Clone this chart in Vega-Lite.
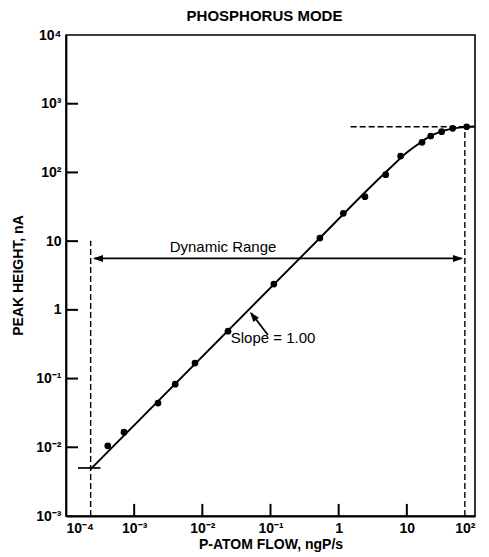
{
  "$schema": "https://vega.github.io/schema/vega-lite/v6.json",
  "autosize": "none",
  "width": 409,
  "height": 481,
  "padding": {"left": 66, "top": 35, "right": 14, "bottom": 41},
  "background": "white",
  "config": {
    "view": {"stroke": "black", "strokeWidth": 1.6},
    "font": "Liberation Sans",
    "axis": {
      "grid": false,
      "ticks": false,
      "domainColor": "black",
      "domainWidth": 1.8,
      "labelColor": "black",
      "labelFont": "Liberation Sans",
      "labelFontSize": 14,
      "labelFontWeight": "bold",
      "titleColor": "black",
      "titleFont": "Liberation Sans",
      "titleFontSize": 14,
      "titleFontWeight": "bold"
    }
  },
  "title": {
    "text": "PHOSPHORUS MODE",
    "font": "Liberation Sans",
    "fontSize": 15,
    "fontWeight": "bold",
    "color": "black",
    "anchor": "middle",
    "offset": 4,
    "dx": -6
  },
  "datasets": {
    "curve": [
      {"flow": 0.00023, "peak": 0.0048},
      {"flow": 0.53, "peak": 11.1},
      {"flow": 3, "peak": 63},
      {"flow": 6, "peak": 122},
      {"flow": 10, "peak": 195},
      {"flow": 15, "peak": 262},
      {"flow": 20, "peak": 318},
      {"flow": 30, "peak": 385},
      {"flow": 45, "peak": 430},
      {"flow": 70, "peak": 457},
      {"flow": 100, "peak": 465}
    ],
    "dots": [
      {"flow": 0.00041, "peak": 0.0105},
      {"flow": 0.00071, "peak": 0.0166},
      {"flow": 0.00224, "peak": 0.044},
      {"flow": 0.004, "peak": 0.083},
      {"flow": 0.0078, "peak": 0.168},
      {"flow": 0.0238, "peak": 0.49},
      {"flow": 0.112, "peak": 2.37},
      {"flow": 0.53, "peak": 11.1},
      {"flow": 1.17, "peak": 25.4},
      {"flow": 2.43, "peak": 44.3},
      {"flow": 4.9, "peak": 92.7},
      {"flow": 8.1, "peak": 173},
      {"flow": 16.7, "peak": 274},
      {"flow": 22.4, "peak": 339},
      {"flow": 32.4, "peak": 392},
      {"flow": 47, "peak": 438},
      {"flow": 75.5, "peak": 462}
    ],
    "dashed": [
      {"x": 0.00023, "x2": 0.00023, "y": 0.001, "y2": 10.1},
      {"x": 71, "x2": 71, "y": 0.001, "y2": 443},
      {"x": 1.5, "x2": 100, "y": 462, "y2": 462}
    ],
    "solid": [
      {"x": 0.00015, "x2": 0.00032, "y": 0.005, "y2": 0.005},
      {"x": 0.00026, "x2": 64, "y": 5.6, "y2": 5.6},
      {"x": 0.052, "x2": 0.0918, "y": 0.9, "y2": 0.43}
    ],
    "ticks": [
      {"x": 0.001, "x2": 0.001, "y": 0.001, "y2": 0.0015},
      {"x": 0.01, "x2": 0.01, "y": 0.001, "y2": 0.0015},
      {"x": 0.1, "x2": 0.1, "y": 0.001, "y2": 0.0015},
      {"x": 1, "x2": 1, "y": 0.001, "y2": 0.0015},
      {"x": 10, "x2": 10, "y": 0.001, "y2": 0.0015},
      {"x": 0.0001, "x2": 0.00015, "y": 0.01, "y2": 0.01},
      {"x": 0.0001, "x2": 0.00015, "y": 0.1, "y2": 0.1},
      {"x": 0.0001, "x2": 0.00015, "y": 1, "y2": 1},
      {"x": 0.0001, "x2": 0.00015, "y": 10, "y2": 10},
      {"x": 0.0001, "x2": 0.00015, "y": 100, "y2": 100},
      {"x": 0.0001, "x2": 0.00015, "y": 1000, "y2": 1000}
    ],
    "heads": [
      {"x": 0.000249, "y": 5.6, "angle": 180},
      {"x": 66.7, "y": 5.6, "angle": 0},
      {"x": 0.05, "y": 0.93, "angle": 232}
    ],
    "labels": [
      {"x": 0.0201, "y": 6.93, "text": "Dynamic Range", "align": "center"},
      {"x": 0.109, "y": 0.329, "text": "Slope = 1.00", "align": "left"}
    ]
  },
  "encoding": {
    "x": {
      "type": "quantitative",
      "scale": {"type": "log", "domain": [0.0001, 100], "nice": false}
    },
    "y": {
      "type": "quantitative",
      "scale": {"type": "log", "domain": [0.001, 10000], "nice": false}
    }
  },
  "layer": [
    {
      "data": {"name": "dashed"},
      "mark": {"type": "rule", "color": "black", "strokeWidth": 1.4, "strokeDash": [6, 3]},
      "encoding": {
        "x": {"field": "x", "type": "quantitative", "axis": {
          "orient": "bottom",
          "title": "P-ATOM FLOW, ngP/s",
          "values": [0.0001, 0.001, 0.01, 0.1, 1, 10, 100],
          "labelPadding": 5,
          "titleY": 32,
          "titleBaseline": "alphabetic",
          "labelExpr": "datum.value < 0.00015 ? '10⁻⁴' : datum.value < 0.0015 ? '10⁻³' : datum.value < 0.015 ? '10⁻²' : datum.value < 0.15 ? '10⁻¹' : datum.value < 1.5 ? '1' : datum.value < 15 ? '10' : datum.value < 150 ? '10²' : datum.value < 1500 ? '10³' : '10⁴'"
        }},
        "x2": {"field": "x2"},
        "y": {"field": "y", "type": "quantitative", "axis": {
          "orient": "left",
          "title": "PEAK HEIGHT, nA",
          "values": [0.001, 0.01, 0.1, 1, 10, 100, 1000, 10000],
          "labelPadding": 5,
          "titleX": -48,
          "titleY": 240,
          "titleBaseline": "middle",
          "labelExpr": "datum.value < 0.0015 ? '10⁻³' : datum.value < 0.015 ? '10⁻²' : datum.value < 0.15 ? '10⁻¹' : datum.value < 1.5 ? '1' : datum.value < 15 ? '10' : datum.value < 150 ? '10²' : datum.value < 1500 ? '10³' : '10⁴'"
        }},
        "y2": {"field": "y2"}
      }
    },
    {
      "data": {"name": "ticks"},
      "mark": {"type": "rule", "color": "black", "strokeWidth": 2},
      "encoding": {
        "x": {"field": "x", "type": "quantitative"},
        "x2": {"field": "x2"},
        "y": {"field": "y", "type": "quantitative"},
        "y2": {"field": "y2"}
      }
    },
    {
      "data": {"name": "solid"},
      "mark": {"type": "rule", "color": "black", "strokeWidth": 1.7},
      "encoding": {
        "x": {"field": "x", "type": "quantitative"},
        "x2": {"field": "x2"},
        "y": {"field": "y", "type": "quantitative"},
        "y2": {"field": "y2"}
      }
    },
    {
      "data": {"name": "curve"},
      "mark": {"type": "line", "color": "black", "strokeWidth": 1.9, "interpolate": "monotone"},
      "encoding": {
        "x": {"field": "flow", "type": "quantitative"},
        "y": {"field": "peak", "type": "quantitative"}
      }
    },
    {
      "data": {"name": "dots"},
      "mark": {"type": "point", "filled": true, "color": "black", "opacity": 1, "size": 45},
      "encoding": {
        "x": {"field": "flow", "type": "quantitative"},
        "y": {"field": "peak", "type": "quantitative"}
      }
    },
    {
      "data": {"name": "heads"},
      "mark": {"type": "point", "filled": true, "color": "black", "opacity": 1, "size": 400, "shape": "M0,0L-1,-0.35L-1,0.35Z"},
      "encoding": {
        "x": {"field": "x", "type": "quantitative"},
        "y": {"field": "y", "type": "quantitative"},
        "angle": {"field": "angle", "type": "quantitative", "scale": null}
      }
    },
    {
      "data": {"name": "labels"},
      "mark": {"type": "text", "font": "Liberation Sans", "fontSize": 15, "color": "black", "baseline": "alphabetic"},
      "encoding": {
        "x": {"field": "x", "type": "quantitative"},
        "y": {"field": "y", "type": "quantitative"},
        "text": {"field": "text"},
        "align": {"field": "align", "type": "nominal", "scale": null}
      }
    }
  ]
}
